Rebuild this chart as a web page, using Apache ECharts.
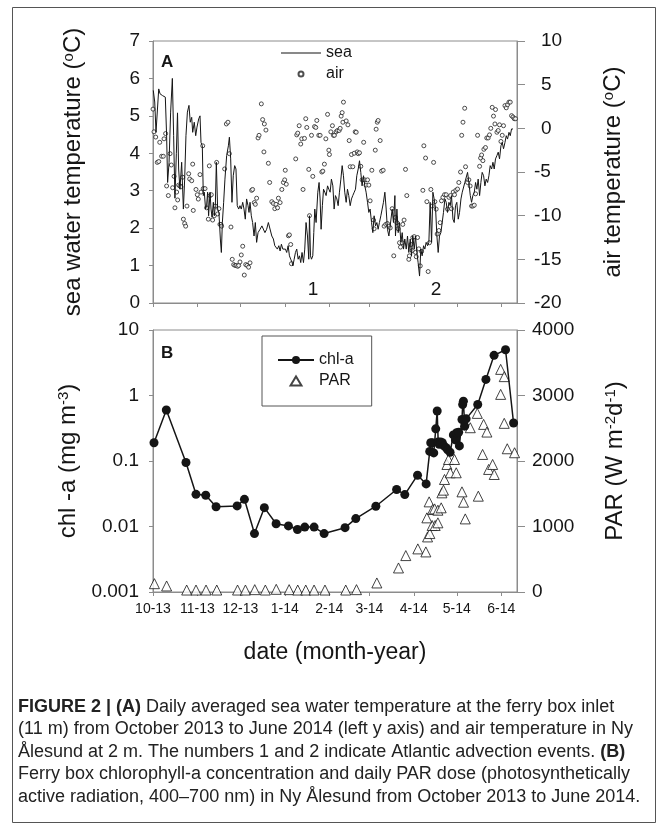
<!DOCTYPE html>
<html>
<head>
<meta charset="utf-8">
<script src="https://cdn.jsdelivr.net/npm/echarts@6/dist/echarts.min.js"></script>
<style>
  html, body { margin: 0; padding: 0; background: #fff; }
  #chart { width: 667px; height: 827px; }
</style>
</head>
<body>
<div id="chart"></div>
<script>
// x values are days counted from 1 Oct 2013
const monthStarts = [0, 31, 61, 92, 123, 151, 182, 212, 243];
const monthLabels = ['10-13', '11-13', '12-13', '1-14', '2-14', '3-14', '4-14', '5-14', '6-14'];

// panel A: daily sea water temperature (left axis, deg C)
const seaTemp = [
  [0.2,5.68],[1.2,5.37],[2.1,4.56],[4.0,5.72],[4.9,5.59],[5.8,5.63],[6.7,5.54],[7.7,5.59],[8.6,5.5],[9.5,4.47],
  [10.2,3.22],[11.2,3.76],[12.3,5.1],[13.5,6.0],[14.4,4.47],[15.3,2.8],[16.3,4.0],[17.1,5.08],[17.9,3.58],[18.8,3.04],
  [20.0,3.76],[21.2,2.51],[22.1,3.31],[23.0,4.47],[24.0,5.1],[25.1,5.28],[26.0,4.83],[27.0,4.96],[27.7,4.56],[28.8,4.83],
  [29.8,4.47],[30.7,4.7],[31.9,4.92],[32.8,5.0],[33.5,4.29],[34.4,4.2],[35.1,2.87],[35.8,2.96],[36.7,2.51],[37.4,2.6],
  [38.1,2.96],[38.8,2.33],[39.8,2.96],[40.5,2.51],[41.2,2.29],[42.1,2.69],[42.8,2.33],[43.5,2.6],[44.2,3.76],[45.1,2.51],
  [46.0,2.42],[47.0,1.71],[47.7,1.35],[48.4,2.15],[49.3,2.69],[50.2,3.31],[51.4,3.94],[52.6,4.2],[53.3,4.43],[54.2,3.85],
  [55.1,2.69],[56.0,3.4],[57.0,3.67],[57.9,3.58],[58.8,2.6],[59.8,2.51],[60.7,2.6],[61.6,2.51],[62.6,2.69],[63.5,2.51],
  [64.4,2.24],[65.3,2.78],[66.3,2.6],[67.0,2.42],[67.7,2.69],[68.6,2.33],[69.5,2.15],[70.5,1.79],[71.4,2.15],[72.3,1.62],
  [73.3,1.88],[74.7,1.97],[76.0,2.06],[77.0,2.02],[78.1,1.88],[79.3,1.97],[80.5,2.15],[81.7,2.15],[82.9,1.79],[84.0,1.71],
  [85.0,1.53],[85.9,1.57],[86.8,1.44],[87.8,1.53],[88.7,1.39],[89.6,1.57],[90.6,1.44],[91.5,1.48],[92.4,1.44],[93.3,1.35],
  [94.3,1.53],[95.2,1.26],[96.1,1.17],[97.1,1.08],[97.6,0.99],[98.5,1.17],[99.4,1.35],[100.3,1.44],[101.3,1.17],[102.2,1.26],
  [103.1,1.08],[104.0,1.35],[105.0,1.08],[105.9,1.44],[106.8,2.15],[107.8,1.79],[108.7,1.17],[109.2,2.33],[109.9,1.26],[110.6,1.17],
  [111.5,1.26],[112.2,1.88],[112.9,2.51],[113.8,2.15],[115.0,2.96],[115.9,3.22],[116.6,2.78],[117.3,1.97],[118.2,2.6],[119.0,3.04],
  [119.9,2.96],[120.8,2.87],[121.8,3.13],[122.7,3.04],[123.6,2.96],[124.5,3.31],[125.5,3.13],[126.4,2.51],[127.3,2.87],[128.3,2.78],
  [129.2,2.6],[130.1,2.96],[131.1,3.31],[132.0,3.67],[132.9,3.4],[133.8,2.96],[134.8,2.69],[135.7,3.04],[136.6,2.87],[137.6,2.6],
  [138.5,2.78],[139.4,2.87],[140.4,2.96],[141.3,3.04],[142.2,3.4],[143.2,3.58],[144.1,3.8],[145.0,3.49],[145.9,3.13],[146.9,3.4],
  [147.8,3.13],[148.7,2.96],[149.7,2.69],[150.6,2.42],[151.5,2.51],[152.5,2.15],[153.4,1.88],[154.3,2.33],[155.3,2.06],[156.2,2.15],
  [157.1,1.97],[158.0,2.15],[159.0,2.33],[159.9,2.51],[160.8,2.69],[161.8,2.96],[162.7,2.51],[163.6,1.97],[164.6,1.79],[165.5,2.06],
  [166.9,2.51],[167.8,2.15],[168.8,2.87],[169.2,1.79],[170.2,2.51],[171.1,1.88],[172.0,2.15],[173.0,1.62],[173.9,1.88],[174.8,1.44],
  [175.7,1.71],[176.7,1.44],[177.6,1.79],[178.5,1.35],[179.5,1.71],[180.4,1.26],[181.3,1.79],[182.3,1.44],[183.2,1.79],[184.1,1.35],
  [185.0,1.08],[186.0,0.72],[186.9,1.44],[187.8,1.26],[188.8,1.53],[189.7,1.44],[190.6,1.62],[191.6,1.53],[192.5,1.62],[193.4,2.69],
  [194.4,1.62],[195.3,2.96],[196.2,2.78],[197.2,2.51],[198.1,1.79],[199.0,1.35],[199.9,1.79],[200.9,1.88],[201.8,2.15],[202.7,2.42],
  [203.7,2.78],[204.6,2.69],[205.5,2.42],[206.5,2.69],[207.4,2.6],[208.3,2.87],[209.3,2.24],[210.2,2.15],[211.1,2.6],[212.0,2.69],
  [213.0,2.24],[213.9,2.42],[214.9,2.78],[215.8,2.96],[216.7,2.96],[217.6,3.22],[218.6,3.22],[219.5,3.49],[220.4,3.22],[221.4,2.87],
  [222.3,2.69],[223.2,2.87],[224.2,2.96],[225.1,3.22],[226.0,3.04],[226.9,3.31],[227.9,2.87],[228.8,3.22],[229.7,3.49],[230.7,3.4],
  [231.6,3.13],[232.5,3.31],[233.5,3.22],[234.4,3.4],[235.3,3.67],[236.3,3.58],[237.2,3.76],[238.1,3.58],[239.0,3.85],[240.0,3.94],
  [240.9,4.03],[241.8,3.85],[242.8,4.2],[243.7,4.29],[244.6,4.12],[245.6,4.29],[246.5,4.47],[247.4,4.38],[248.4,4.56],[249.3,4.47],
  [250.2,4.65],[251.2,4.65]
];

// panel A: air temperature in Ny Alesund (right axis, deg C)
const airTemp = [
  [0,2.2],[0.7,-0.4],[1.9,-1.0],[3.0,-3.9],[4.0,-3.8],[4.7,-1.6],[6.0,-3.2],[7.2,-3.2],[7.7,-1.2],[8.8,-0.6],
  [9.5,-6.6],[10.7,-7.7],[11.9,-2.9],[12.8,-4.2],[13.7,-6.8],[14.7,-5.5],[15.3,-9.1],[16.5,-7.3],[17.2,-8.2],[17.9,-6.5],
  [18.8,-6.6],[19.5,-6.7],[20.7,-5.6],[21.2,-10.4],[22.1,-10.9],[22.8,-11.2],[23.7,-8.9],[24.9,-5.2],[25.6,-5.8],[27.0,-6.0],
  [27.7,-4.1],[28.1,-9.4],[30.0,-7.0],[30.9,-7.6],[31.6,-8.1],[32.8,-5.3],[33.5,-7.3],[34.7,-2.0],[35.1,-6.9],[36.3,-6.9],
  [37.4,-9.1],[38.6,-10.4],[39.3,-4.3],[39.8,-7.7],[40.7,-7.6],[41.6,-10.5],[42.8,-10.0],[43.5,-8.9],[44.4,-3.9],[45.1,-9.8],
  [46.0,-9.2],[46.7,-11.0],[47.4,-11.0],[47.9,-11.2],[50.0,-4.65],[51.2,0.5],[52.3,0.7],[53.3,-2.9],[54.4,-11.3],[55.3,-15.0],
  [56.3,-15.6],[57.2,-15.7],[58.1,-15.7],[59.1,-15.8],[59.8,-15.7],[60.7,-15.3],[61.6,-14.5],[62.6,-13.5],[63.7,-16.8],[64.7,-15.6],
  [65.6,-15.7],[66.7,-15.9],[67.7,-15.4],[68.8,-7.1],[69.5,-7.0],[70.7,-8.5],[71.4,-8.7],[72.3,-8.0],[73.3,-1.1],[74.0,-0.8],
  [75.6,2.8],[76.5,1.0],[77.4,-2.7],[77.7,0.5],[78.8,-0.2],[80.5,-4.0],[81.4,-6.2],[82.9,-8.4],[84.0,-8.6],[85.0,-9.2],
  [85.8,-8.7],[86.9,-9.1],[87.5,-8.0],[88.7,-8.5],[89.9,-7.0],[91.0,-6.2],[91.9,-5.9],[92.3,-4.8],[93.0,-6.4],[94.5,-12.3],
  [95.2,-12.2],[96.1,-13.3],[96.6,-15.5],[99.6,-3.5],[100.3,-0.75],[101.0,-0.55],[102.0,0.3],[103.1,-1.8],[103.8,-1.2],[104.7,-7.0],
  [105.7,-1.15],[106.6,1.1],[107.3,0.1],[108.7,-4.7],[109.2,-10.0],[110.6,-0.8],[111.5,-5.5],[112.7,0.2],[113.6,0.1],[114.3,0.9],
  [115.7,-0.8],[116.6,-0.8],[117.8,-5.0],[118.5,-4.9],[119.6,-4.1],[120.6,-1.2],[121.8,1.6],[122.7,-2.5],[123.1,-3.0],[124.1,-0.4],
  [125.2,0.3],[125.9,-0.8],[126.6,-0.8],[127.8,-0.4],[128.7,-0.25],[129.9,-0.25],[130.6,0.0],[131.3,1.4],[132.0,1.8],[132.5,0.7],
  [132.9,3.0],[134.8,0.85],[136.0,0.4],[136.9,-1.4],[137.6,-4.4],[138.5,-3.0],[139.4,-4.4],[140.4,-2.85],[141.1,-0.4],[141.8,-0.45],
  [142.5,-2.7],[143.2,-2.9],[144.1,-2.8],[145.0,-4.35],[145.9,-5.9],[147.0,-1.6],[147.7,-5.9],[148.6,-6.5],[149.7,-5.9],[150.6,-6.5],
  [151.5,-8.3],[152.7,-4.8],[153.9,-10.5],[154.3,-11.5],[155.1,-2.5],[155.7,-0.1],[156.5,0.7],[157.1,0.9],[158.5,-1.4],[159.5,-4.9],
  [160.6,-4.8],[161.3,-11.2],[162.4,-11.0],[163.6,-10.9],[164.6,-11.2],[165.5,-11.4],[166.9,-9.2],[168.0,-14.6],[169.2,-10.2],[170.2,-10.8],
  [171.1,-11.5],[172.0,-13.1],[172.7,-13.6],[173.9,-13.1],[174.3,-11.0],[175.2,-10.5],[176.2,-4.7],[177.1,-7.7],[178.5,-15.0],[178.9,-14.6],
  [180.0,-13.3],[180.9,-14.0],[181.3,-12.5],[182.3,-12.4],[183.2,-14.2],[183.7,-14.7],[184.6,-12.5],[185.5,-13.8],[186.5,-15.75],[187.4,-14.1],
  [188.3,-7.1],[189.0,-2.0],[190.2,-3.4],[191.1,-8.4],[192.0,-16.4],[192.9,-13.1],[193.9,-7.0],[194.8,-8.9],[195.8,-3.9],[196.7,-8.4],
  [197.6,-9.25],[198.3,-12.1],[199.5,-11.7],[200.4,-10.8],[201.3,-8.3],[202.3,-7.9],[203.4,-7.6],[204.6,-7.6],[205.5,-9.25],[206.5,-7.9],
  [207.6,-7.7],[208.3,-9.2],[209.5,-7.3],[210.4,-7.6],[211.3,-7.1],[212.5,-6.95],[213.4,-6.2],[214.6,-5.0],[215.4,-0.8],[216.3,0.7],
  [217.5,2.3],[218.1,-4.4],[219.5,-6.2],[220.4,-5.9],[221.3,-6.6],[222.3,-8.9],[223.2,-8.9],[224.2,-8.8],[225.1,-7.5],[226.5,-0.8],
  [227.9,-4.35],[228.6,-3.4],[229.3,-3.05],[230.2,-3.7],[230.9,-2.4],[232.0,-2.2],[232.9,-1.1],[233.9,-1.1],[234.8,-0.75],[235.7,0.0],
  [236.7,2.4],[237.6,1.4],[238.6,0.5],[239.0,2.15],[240.0,-0.45],[240.9,-0.25],[241.8,0.4],[242.8,-1.5],[243.7,-0.8],[244.6,0.3],
  [245.6,2.6],[246.5,2.35],[247.4,2.7],[248.4,3.0],[249.3,3.0],[250.2,1.45],[251.2,1.3],[252.1,1.1],[253.0,1.1]
];

// panel B: ferry box chlorophyll-a (mg m-3, log axis)
const chlA = [
  [0.7,0.19],[9.3,0.6],[23,0.095],[30,0.031],[36.8,0.03],[44,0.02],[58.7,0.0206],[63.8,0.026],[70.8,0.0078],[77.7,0.0194],
  [85.9,0.011],[94.5,0.0102],[100.8,0.009],[105.9,0.0098],[112.4,0.0098],[119.4,0.0078],[134,0.0096],[141.5,0.0132],[155.5,0.0204],[170,0.0367],
  [175.7,0.0307],[184.6,0.0607],[190.6,0.0447],[193.1,0.14],[193.8,0.19],[195,0.19],[195.9,0.133],[197.3,0.31],[198.3,0.58],[199,0.195],
  [199.7,0.18],[200.7,0.195],[201.9,0.19],[203,0.17],[204.5,0.16],[205.6,0.148],[207.3,0.136],[209.6,0.25],[211,0.21],[211.9,0.27],
  [213.3,0.275],[213.8,0.17],[215.6,0.43],[216.1,0.73],[216.6,0.82],[217.5,0.34],[218.5,0.44],[226.6,0.73],[232.3,1.76],[238,4.1],
  [246,5.0],[251.6,0.38]
];

// panel B: daily PAR dose (W m-2 d-1)
const par = [
  [1,127],[9.5,92],[23.5,30],[30,30],[37,30],[44.5,30],[59,30],[64.5,30],[71,36],[78.4,30],
  [86,41],[95,36],[101,30],[106.6,30],[112.4,30],[120,30],[134.5,30],[142,36],[156.2,138],[171.3,367],
  [176.4,556],[184.8,658],[190.4,612],[191.6,841],[193.2,892],[194.8,1015],[196.9,1015],[198.8,1056],[191.1,1132],[192.7,1376],
  [195.1,1259],[196.5,1269],[198.8,1249],[201.1,1285],[201.6,1514],[202.7,1555],[203.4,1718],[205.1,1947],[206.2,2023],[207.4,1820],
  [210.4,2023],[211.6,1820],[215.6,1529],[216.7,1371],[217.9,1116],[221.4,2508],[226.3,2727],[227,1463],[230,2100],[230.7,2559],
  [233,2442],[234.2,1871],[237,1947],[238.1,1794],[242.6,3399],[242.6,3017],[245.1,3288],[245.1,2575],[247.2,2187],[252.3,2126]
];

const captionLines = [
  '{b|FIGURE 2 | (A)} Daily averaged sea water temperature at the ferry box inlet',
  '(11 m) from October 2013 to June 2014 (left y axis) and air temperature in Ny',
  'Ålesund at 2 m. The numbers 1 and 2 indicate Atlantic advection events. {b|(B)}',
  'Ferry box chlorophyll-a concentration and daily PAR dose (photosynthetically',
  'active radiation, 400–700 nm) in Ny Ålesund from October 2013 to June 2014.'
];

const FONT = '"Liberation Sans", Arial, Helvetica, sans-serif';
const GRAY = '#8c8c8c';
const INK = '#151515';
const CAPTION_SIZE = 18;

function titleRich() {
  return {
    n: { fontSize: 24, fontFamily: FONT, color: INK },
    s: { fontSize: 15, fontFamily: FONT, color: INK, verticalAlign: 'top', padding: [0, 0, 9, 0] }
  };
}

function yAxisBase(grid, pos, tickLen, margin) {
  return {
    gridIndex: grid,
    position: pos,
    axisLine: { show: true, lineStyle: { color: GRAY, width: 1 } },
    axisTick: { show: true, inside: false, length: tickLen, lineStyle: { color: GRAY } },
    axisLabel: { color: INK, fontSize: 19, fontFamily: FONT, margin: margin },
    splitLine: { show: false },
    nameLocation: 'middle',
    nameRotate: 90,
    nameTextStyle: { rich: titleRich() }
  };
}

function xAxisBase(grid) {
  return {
    type: 'value',
    gridIndex: grid,
    min: 0,
    max: 254,
    axisLine: { show: true, onZero: false, lineStyle: { color: GRAY, width: 1 } },
    axisTick: { show: true, inside: false, length: 4, customValues: monthStarts, lineStyle: { color: GRAY } },
    axisLabel: { show: false },
    splitLine: { show: false }
  };
}

const chart = echarts.init(document.getElementById('chart'), null, { renderer: 'canvas' });

const xB = xAxisBase(1);
xB.axisLabel = {
  show: true,
  customValues: monthStarts,
  formatter: v => monthLabels[monthStarts.indexOf(v)],
  color: INK, fontSize: 14, fontFamily: FONT, margin: 10
};
xB.name = 'date (month-year)';
xB.nameLocation = 'middle';
xB.nameGap = 49;
xB.nameTextStyle = { fontSize: 23, fontFamily: FONT, color: INK };

const yA = Object.assign(yAxisBase(0, 'left', 4, 13), {
  type: 'value', min: 0, max: 7, interval: 1,
  name: '{n|sea water temperature (}{s|o}{n|C)}', nameGap: 68
});
const yAir = Object.assign(yAxisBase(0, 'right', 8, 17), {
  type: 'value', min: -20, max: 10, interval: 5,
  name: '{n|air temperature (}{s|o}{n|C)}', nameGap: 84
});
yAir.axisLabel.formatter = v => (v >= 0 ? '{p|' + v + '}' : String(v));
yAir.axisLabel.rich = { p: { fontSize: 19, fontFamily: FONT, color: INK, padding: [0, 0, 0, 7] } };

const yChl = Object.assign(yAxisBase(1, 'left', 4, 14), {
  type: 'log', logBase: 10, min: 0.001, max: 10,
  name: '{n|chl -a (mg m}{s|-3}{n|)}', nameGap: 71
});
yChl.axisLabel.formatter = v => {
  const e = Math.round(Math.log10(v));
  return e >= 0 ? String(Math.pow(10, e)) : Math.pow(10, e).toFixed(-e);
};
yChl.minorTick = { show: false };

const yPar = Object.assign(yAxisBase(1, 'right', 8, 15), {
  type: 'value', min: 0, max: 4000, interval: 1000,
  name: '{n|PAR (W m}{s|-2}{n|d}{s|-1}{n|)}', nameGap: 86
});
yPar.axisLabel.formatter = v => String(v);

const graphics = [
  { type: 'rect', shape: { x: 12.5, y: 7.5, width: 643, height: 815 }, style: { fill: 'none', stroke: '#555', lineWidth: 1 }, silent: true },
  { type: 'text', x: 161, y: 62, style: { text: 'A', fontSize: 17, fontWeight: 'bold', fontFamily: FONT, fill: INK, verticalAlign: 'middle' } },
  { type: 'text', x: 161, y: 353, style: { text: 'B', fontSize: 17, fontWeight: 'bold', fontFamily: FONT, fill: INK, verticalAlign: 'middle' } },
  { type: 'text', x: 313, y: 290, style: { text: '1', fontSize: 19, fontFamily: FONT, fill: INK, align: 'center', verticalAlign: 'middle' } },
  { type: 'text', x: 436, y: 290, style: { text: '2', fontSize: 19, fontFamily: FONT, fill: INK, align: 'center', verticalAlign: 'middle' } }
];
captionLines.forEach((line, i) => {
  graphics.push({
    type: 'text',
    x: 18,
    y: 707 + i * 22.5,
    style: {
      text: line,
      fontSize: CAPTION_SIZE,
      fontFamily: FONT,
      fill: '#222',
      verticalAlign: 'middle',
      rich: { b: { fontWeight: 'bold', fontSize: CAPTION_SIZE, fontFamily: FONT, fill: '#222' } }
    }
  });
});

const option = {
  animation: false,
  backgroundColor: '#fff',
  textStyle: { fontFamily: FONT },
  grid: [
    { left: 153, top: 41, width: 364, height: 262, show: true, borderColor: GRAY, borderWidth: 1 },
    { left: 153, top: 330, width: 364, height: 262, show: true, borderColor: GRAY, borderWidth: 1 }
  ],
  xAxis: [xAxisBase(0), xB],
  yAxis: [yA, yAir, yChl, yPar],
  legend: [
    {
      data: [{ name: 'sea', icon: 'path://M0,0H40V1H0Z' }, { name: 'air', icon: 'circle' }],
      orient: 'vertical', left: 281, top: 45, padding: 0,
      itemWidth: 40, itemHeight: 5, itemGap: 5,
      textStyle: { fontSize: 16, lineHeight: 16, color: INK, fontFamily: FONT }
    },
    {
      data: ['chl-a', { name: 'PAR', icon: 'path://M0,0M36,11M12,10.5L18,0.5L24,10.5Z' }],
      orient: 'vertical', left: 262, top: 336, padding: [16, 18, 17, 15],
      itemWidth: 36, itemHeight: 10, itemGap: 5,
      borderColor: '#555', borderWidth: 1,
      textStyle: { fontSize: 16, lineHeight: 16, color: INK, fontFamily: FONT }
    }
  ],
  series: [
    {
      name: 'sea', type: 'line', xAxisIndex: 0, yAxisIndex: 0, data: seaTemp,
      symbol: 'none', color: INK, lineStyle: { color: INK, width: 1 }
    },
    {
      name: 'air', type: 'scatter', xAxisIndex: 0, yAxisIndex: 1, data: airTemp,
      symbol: 'circle', symbolSize: 4,
      itemStyle: { color: '#fff', borderColor: '#222', borderWidth: 1 }
    },
    {
      name: 'PAR', type: 'scatter', xAxisIndex: 1, yAxisIndex: 3, data: par,
      symbol: 'triangle', symbolSize: 10,
      itemStyle: { color: '#fff', borderColor: INK, borderWidth: 1 }
    },
    {
      name: 'chl-a', type: 'line', xAxisIndex: 1, yAxisIndex: 2, data: chlA,
      symbol: 'circle', symbolSize: 9, showAllSymbol: true, z: 3,
      color: INK, itemStyle: { color: INK }, lineStyle: { color: INK, width: 1.5 }
    }
  ],
  graphic: graphics
};

chart.setOption(option);
</script>
</body>
</html>
